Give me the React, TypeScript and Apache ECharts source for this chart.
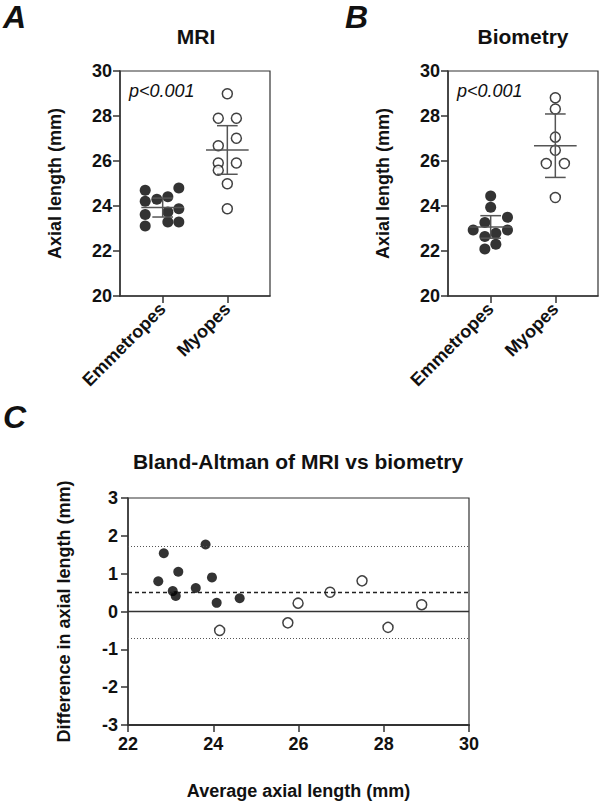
import React, { useEffect, useRef } from "react";
import * as echarts from "echarts";

// ---------- data ----------
const groups = ["Emmetropes", "Myopes"];

// Panel A – MRI
const mriEmmJitter = [-0.27, -0.27, -0.27, -0.27, -0.09, 0.08, 0.08, 0.08, 0.25, 0.25, 0.25];
const mriEmmValues = [24.7, 24.21, 23.62, 23.11, 24.3, 24.41, 23.73, 23.29, 24.8, 23.88, 23.29];
const mriMyoJitter = [0, -0.14, 0.14, 0.14, -0.14, -0.14, 0.14, -0.14, 0, 0];
const mriMyoValues = [28.99, 27.9, 27.9, 27.01, 26.68, 25.91, 25.91, 25.59, 24.99, 23.88];
const mriMean = [23.93, 26.49];
const mriSD = [0.42, 1.08];

// Panel B – Biometry
const bioEmmJitter = [0, 0, 0.26, -0.09, -0.27, 0.26, 0.08, -0.09, 0.08, -0.09];
const bioEmmValues = [24.44, 23.94, 23.5, 23.27, 22.93, 22.93, 22.79, 22.64, 22.3, 22.09];
const bioMyoJitter = [0, 0, 0, 0, -0.14, 0.14, 0];
const bioMyoValues = [28.81, 28.31, 27.06, 26.48, 25.89, 25.89, 24.38];
const bioMean = [23.07, 26.68];
const bioSD = [0.5, 1.41];

// Panel C – Bland-Altman
const baEmmAverage = [22.71, 22.84, 23.18, 23.05, 23.12, 23.59, 23.82, 23.97, 24.08, 24.62];
const baEmmDiff = [0.8, 1.54, 1.05, 0.54, 0.41, 0.62, 1.77, 0.9, 0.23, 0.35];
const baMyoAverage = [24.15, 25.75, 25.99, 26.74, 27.49, 28.1, 28.89];
const baMyoDiff = [-0.5, -0.3, 0.22, 0.51, 0.81, -0.42, 0.18];
const baBias = 0.51;
const baUpper = 1.73;
const baLower = -0.7;

const pText = "p<0.001";

// ---------- styling ----------
const FONT = "'Liberation Sans', Arial, sans-serif";
const AXIS = "#333";

function App() {
  const ref = useRef<HTMLDivElement>(null);

  useEffect(() => {
    document.body.style.margin = "0";
    if (!ref.current) return;
    const chart = echarts.init(ref.current, undefined, { renderer: "svg" });

    const tickLabel = { fontSize: 18, fontWeight: "bold", color: "#111", fontFamily: FONT };
    const nameStyle = { fontSize: 18, fontWeight: "bold", color: "#111", fontFamily: FONT };

    const catX = (gi: number) => ({
      type: "value",
      gridIndex: gi,
      min: 0.34,
      max: 2.66,
      splitLine: { show: false },
      axisLine: { show: true, onZero: false, lineStyle: { color: AXIS, width: 1.5 } },
      axisTick: { show: true, customValues: [1, 2], length: 7, lineStyle: { color: AXIS, width: 1.5 } },
      axisLabel: {
        ...tickLabel,
        customValues: [1, 2],
        formatter: (v: number) => groups[Math.round(v) - 1] || "",
        rotate: 45,
        margin: 10,
      },
    });
    const valY = (gi: number) => ({
      type: "value",
      gridIndex: gi,
      min: 20,
      max: 30,
      interval: 2,
      splitLine: { show: false },
      axisLine: { show: true, onZero: false, lineStyle: { color: AXIS, width: 1.5 } },
      axisTick: { show: true, length: 7, lineStyle: { color: AXIS, width: 1.5 } },
      axisLabel: { ...tickLabel, margin: 8 },
      name: "Axial length (mm)",
      nameLocation: "middle",
      nameGap: 56,
      nameTextStyle: nameStyle,
    });

    const errorBars = (xi: number, means: number[], sds: number[]) => ({
      type: "custom",
      xAxisIndex: xi,
      yAxisIndex: xi,
      z: 5,
      silent: true,
      data: means.map((m, i) => [i + 1, m, sds[i]]),
      renderItem: (params: any, api: any) => {
        const x = api.value(0);
        const m = api.value(1);
        const sd = api.value(2);
        const seg = (a: number[], b: number[]) => {
          const p1 = api.coord(a);
          const p2 = api.coord(b);
          return {
            type: "line",
            shape: { x1: p1[0], y1: p1[1], x2: p2[0], y2: p2[1] },
            style: { stroke: "#555", lineWidth: 1.5 },
          };
        };
        return {
          type: "group",
          children: [
            seg([x - 0.33, m], [x + 0.33, m]),
            seg([x, m - sd], [x, m + sd]),
            seg([x - 0.16, m + sd], [x + 0.16, m + sd]),
            seg([x - 0.16, m - sd], [x + 0.16, m - sd]),
          ],
        };
      },
    });

    const filled = { color: "#000" };
    const open = { color: "#fff", borderColor: "#111", borderWidth: 1.5 };

    const text = (t: string, x: number, y: number, extra: any = {}) => ({
      type: "text",
      x,
      y,
      style: {
        text: t,
        fill: "#111",
        fontFamily: FONT,
        fontSize: 20,
        fontWeight: "bold",
        align: "center",
        verticalAlign: "middle",
        ...extra,
      },
    });

    chart.setOption({
      animation: false,
      textStyle: { fontFamily: FONT },
      grid: [
        { left: 120, top: 71, width: 150, height: 225, show: true, borderColor: AXIS, borderWidth: 1.2 },
        { left: 448, top: 71, width: 150, height: 225, show: true, borderColor: AXIS, borderWidth: 1.2 },
        { left: 128, top: 498, width: 341, height: 227, show: true, borderColor: AXIS, borderWidth: 1.2 },
      ],
      xAxis: [
        catX(0),
        catX(1),
        {
          type: "value",
          gridIndex: 2,
          min: 22,
          max: 30,
          interval: 2,
          splitLine: { show: false },
          axisLine: { show: true, onZero: false, lineStyle: { color: AXIS, width: 2 } },
          axisTick: { show: true, length: 7, lineStyle: { color: AXIS, width: 1.5 } },
          axisLabel: { ...tickLabel, margin: 10 },
          name: "Average axial length (mm)",
          nameLocation: "middle",
          nameGap: 57,
          nameTextStyle: nameStyle,
        },
      ],
      yAxis: [
        valY(0),
        valY(1),
        {
          type: "value",
          gridIndex: 2,
          min: -3,
          max: 3,
          interval: 1,
          splitLine: { show: false },
          axisLine: { show: true, onZero: false, lineStyle: { color: AXIS, width: 1.5 } },
          axisTick: { show: true, length: 7, lineStyle: { color: AXIS, width: 1.5 } },
          axisLabel: { ...tickLabel, margin: 10 },
          name: "Difference in axial length (mm)",
          nameLocation: "middle",
          nameGap: 55,
          nameTextStyle: nameStyle,
        },
      ],
      series: [
        {
          type: "scatter",
          xAxisIndex: 0,
          yAxisIndex: 0,
          symbolSize: 11,
          itemStyle: filled,
          data: mriEmmValues.map((v, i) => [1 + mriEmmJitter[i], v]),
        },
        {
          type: "scatter",
          xAxisIndex: 0,
          yAxisIndex: 0,
          symbolSize: 10,
          itemStyle: open,
          data: mriMyoValues.map((v, i) => [2 + mriMyoJitter[i], v]),
        },
        errorBars(0, mriMean, mriSD),
        {
          type: "scatter",
          xAxisIndex: 1,
          yAxisIndex: 1,
          symbolSize: 11,
          itemStyle: filled,
          data: bioEmmValues.map((v, i) => [1 + bioEmmJitter[i], v]),
        },
        {
          type: "scatter",
          xAxisIndex: 1,
          yAxisIndex: 1,
          symbolSize: 10,
          itemStyle: open,
          data: bioMyoValues.map((v, i) => [2 + bioMyoJitter[i], v]),
        },
        errorBars(1, bioMean, bioSD),
        {
          type: "scatter",
          xAxisIndex: 2,
          yAxisIndex: 2,
          z: 1,
          data: [],
          markLine: {
            silent: true,
            symbol: "none",
            label: { show: false },
            data: [
              { yAxis: 0, lineStyle: { type: "solid", color: "#333", width: 1.3 } },
              { yAxis: baBias, lineStyle: { type: [4, 3], color: "#222", width: 1.3 } },
              { yAxis: baUpper, lineStyle: { type: [1, 2], color: "#555", width: 1 } },
              { yAxis: baLower, lineStyle: { type: [1, 2], color: "#555", width: 1 } },
            ],
          },
        },
        {
          type: "scatter",
          xAxisIndex: 2,
          yAxisIndex: 2,
          z: 3,
          symbolSize: 10,
          itemStyle: filled,
          data: baEmmAverage.map((v, i) => [v, baEmmDiff[i]]),
        },
        {
          type: "scatter",
          xAxisIndex: 2,
          yAxisIndex: 2,
          z: 3,
          symbolSize: 10,
          itemStyle: open,
          data: baMyoAverage.map((v, i) => [v, baMyoDiff[i]]),
        },
      ],
      graphic: [
        text("A", 3, 17, { fontSize: 32, fontStyle: "italic", align: "left" }),
        text("B", 345, 17, { fontSize: 32, fontStyle: "italic", align: "left" }),
        text("C", 3, 417, { fontSize: 32, fontStyle: "italic", align: "left" }),
        text("MRI", 196, 36, { fontSize: 21 }),
        text("Biometry", 523, 36, { fontSize: 21 }),
        text("Bland-Altman of MRI vs biometry", 298, 461, { fontSize: 21 }),
        text(pText, 129, 91, { fontSize: 18, fontWeight: "normal", fontStyle: "italic", align: "left" }),
        text(pText, 457, 91, { fontSize: 18, fontWeight: "normal", fontStyle: "italic", align: "left" }),
      ],
    });

    return () => chart.dispose();
  }, []);

  return (
    <div
      ref={ref}
      style={{ position: "absolute", left: 0, top: 0, width: 600, height: 803, background: "#fff" }}
    />
  );
}

export default App;
